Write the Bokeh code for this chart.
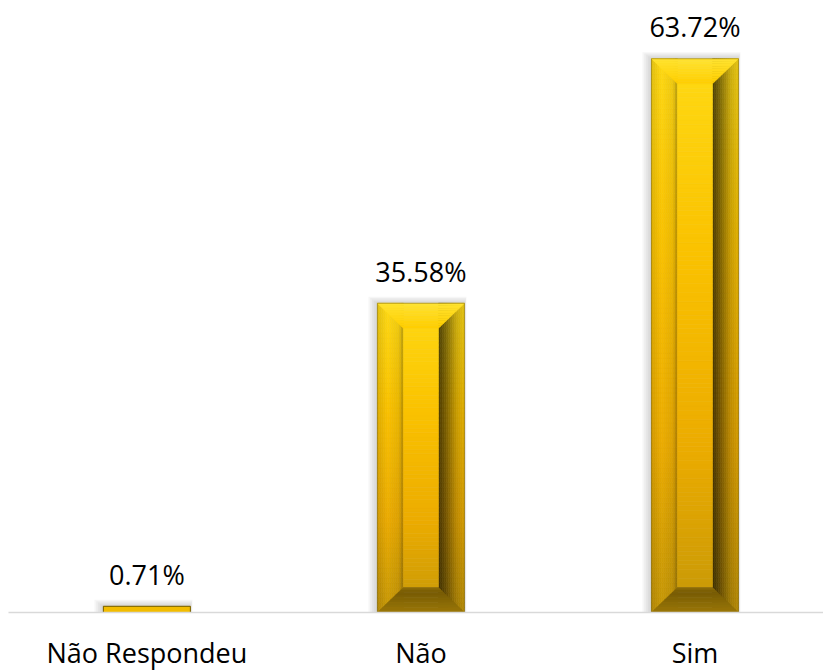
import numpy as np
from bokeh.plotting import figure
from bokeh.models import Range1d, FixedTicker, ColumnDataSource
from bokeh.embed import file_html
from bokeh.resources import INLINE
from bokeh.core.properties import value

# ---- data ----
categories = ["Não Respondeu", "Não", "Sim"]
percentages = [0.71, 35.58, 63.72]
value_labels = ["0.71%", "35.58%", "63.72%"]

# ---- layout ----
FRAME_W, FRAME_H = 815, 604
x_start, x_end = -0.505, 2.469
y_start, y_end = 0.0, 69.5
px_x = FRAME_W / (x_end - x_start)
px_y = FRAME_H / (y_end - y_start)

half_w = 43.5 / px_x
ix = 26.0 / px_x
iy = 25.0 / px_y

p = figure(frame_width=FRAME_W, frame_height=FRAME_H,
           x_range=Range1d(x_start, x_end), y_range=Range1d(y_start, y_end),
           output_backend="svg", toolbar_location=None, y_axis_location=None,
           min_border_left=8, min_border_right=0, min_border_top=8, min_border_bottom=0,
           outline_line_color=None, background_fill_color="white", border_fill_color="white")
p.xgrid.visible = False
p.ygrid.visible = False


def interp(stops, t):
    t = min(max(t, 0.0), 1.0)
    for (t0, c0), (t1, c1) in zip(stops[:-1], stops[1:]):
        if t <= t1:
            f = 0 if t1 == t0 else (t - t0) / (t1 - t0)
            if isinstance(c0, tuple):
                return tuple(a + (b - a) * f for a, b in zip(c0, c1))
            return c0 + (c1 - c0) * f
    return stops[-1][1]


def hexc(rgb, k=1.0):
    r, g, b = (int(max(0, min(255, round(c * k)))) for c in rgb)
    return "#%02x%02x%02x" % (r, g, b)


BASE = [(0.0, (255, 218, 20)), (0.35, (250, 194, 0)), (0.7, (236, 172, 0)), (1.0, (198, 152, 8))]
LEFT = [(0.0, 0.88), (0.4, 1.0), (0.85, 0.93), (1.0, 0.7)]        # outer -> inner
RIGHT = [(0.0, 0.3), (0.3, 0.5), (0.7, 0.8), (1.0, 0.9)]          # inner -> outer
TOPF = [(0.0, (255, 228, 50)), (1.0, (255, 206, 0))]             # outer edge -> inner edge
BOTF = [(0.0, 0.72), (0.2, 0.6), (1.0, 0.78)]                     # inner edge -> outer edge

quads = dict(left=[], right=[], top=[], bottom=[], color=[])
polys = dict(xs=[], ys=[], color=[])
shadow = dict(left=[], right=[], top=[], bottom=[])
flat = dict(left=[], right=[], top=[], bottom=[])


def add_quad(l, r, b, t, c):
    quads["left"].append(l); quads["right"].append(r)
    quads["bottom"].append(b); quads["top"].append(t); quads["color"].append(c)


for i, v in enumerate(percentages):
    L, R = i - half_w, i + half_w
    for k in range(1, 6):
        shadow["left"].append(L - 1.8 * k / px_x)
        shadow["right"].append(R + 0.4 * k / px_x)
        shadow["top"].append(v + 1.3 * k / px_y)
        shadow["bottom"].append(0)
    if v * px_y < 2 * 25 + 4:
        flat["left"].append(L); flat["right"].append(R)
        flat["top"].append(v); flat["bottom"].append(0)
        continue
    n_rows = max(2, int(round(v * px_y / 5)))
    ys = np.linspace(0, v, n_rows + 1)
    n_cols = 13
    lx = np.linspace(L, L + ix, n_cols + 1)
    rx = np.linspace(R - ix, R, n_cols + 1)
    for r in range(n_rows):
        yb, yt = ys[r], ys[r + 1]
        tv = (v - (yb + yt) / 2) / v
        base = interp(BASE, tv)
        for c in range(n_cols):
            s = (c + 0.5) / n_cols
            add_quad(lx[c], lx[c + 1], yb, yt, hexc(base, interp(LEFT, s)))
            add_quad(rx[c], rx[c + 1], yb, yt, hexc(base, interp(RIGHT, s)))
    # inner face
    yi = np.linspace(iy, v - iy, n_rows + 1)
    for r in range(n_rows):
        yb, yt = yi[r], yi[r + 1]
        tv = (v - (yb + yt) / 2) / v
        add_quad(L + ix, R - ix, yb, yt, hexc(interp(BASE, tv), 1.0))
    # top / bottom bevel faces
    n_t = 10
    for r in range(n_t):
        u0, u1 = r / n_t, (r + 1) / n_t
        y0, y1 = v - u0 * iy, v - u1 * iy
        polys["xs"].append([L + u0 * ix, R - u0 * ix, R - u1 * ix, L + u1 * ix])
        polys["ys"].append([y0, y0, y1, y1])
        polys["color"].append(hexc(interp(TOPF, (u0 + u1) / 2)))
        y0, y1 = iy - u0 * iy, iy - u1 * iy
        polys["xs"].append([L + (1 - u0) * ix, R - (1 - u0) * ix, R - (1 - u1) * ix, L + (1 - u1) * ix])
        polys["ys"].append([y0, y0, y1, y1])
        polys["color"].append(hexc(interp(BASE, 1.0), interp(BOTF, (u0 + u1) / 2)))

p.quad(source=ColumnDataSource(shadow), left="left", right="right", top="top", bottom="bottom",
       fill_color="#7f7f7f", fill_alpha=0.07, line_color=None)
p.quad(source=ColumnDataSource(quads), left="left", right="right", top="top", bottom="bottom",
       fill_color="color", line_color="color", line_width=0.6)
p.patches(source=ColumnDataSource(polys), xs="xs", ys="ys",
          fill_color="color", line_color="color", line_width=0.6)
p.quad(source=ColumnDataSource(flat), left="left", right="right", top="top", bottom="bottom",
       fill_color="#f2bc00", line_color="#8c7000", line_width=1)
outline = dict(left=[i - half_w for i in range(len(percentages))],
               right=[i + half_w for i in range(len(percentages))],
               top=percentages, bottom=[0] * len(percentages))
p.quad(source=ColumnDataSource(outline), left="left", right="right", top="top", bottom="bottom",
       fill_color=None, line_color="#6e5800", line_alpha=0.45, line_width=1)

p.text(x=list(range(len(categories))), y=percentages, text=value_labels,
       text_align="center", text_baseline="alphabetic", y_offset=-32,
       text_font=value("Open Sans"), text_font_size="27px", text_color="#000000")

ax = p.xaxis[0]
ax.ticker = FixedTicker(ticks=list(range(len(categories))))
ax.major_label_overrides = {i: c for i, c in enumerate(categories)}
ax.axis_line_color = "#d9d9d9"
ax.axis_line_width = 1.5
ax.major_tick_line_color = None
ax.minor_tick_line_color = None
ax.major_label_text_font = "Open Sans"
ax.major_label_text_font_size = "27px"
ax.major_label_text_color = "#000000"
ax.major_label_standoff = 15

open("out.html", "w").write(file_html(p, INLINE))
